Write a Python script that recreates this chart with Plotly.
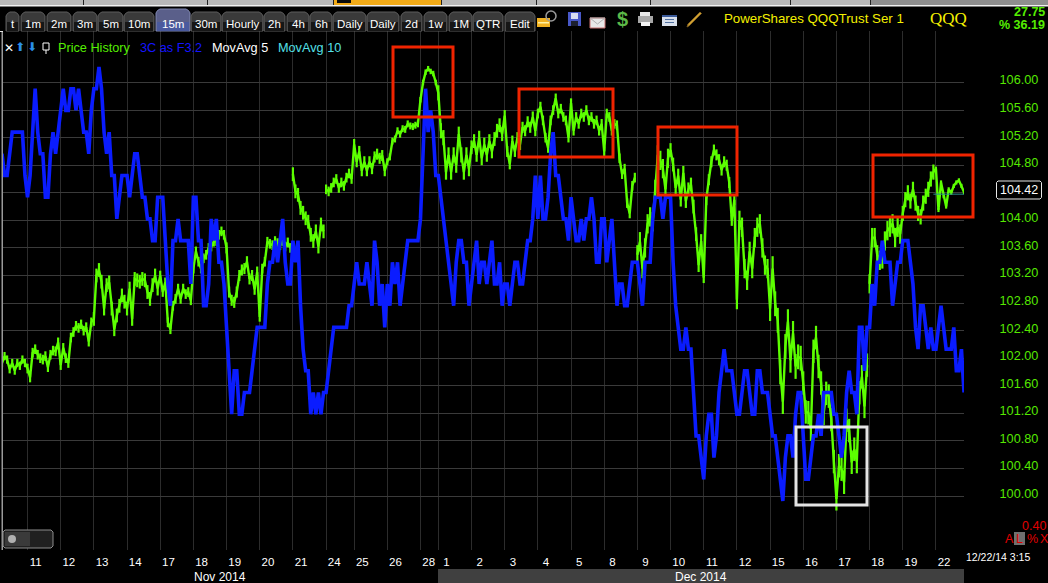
import plotly.graph_objects as go

W, H = 1048, 583
L, R, T, B = 2, 964, 31, 550

# sessions: bar slots (half-hour steps) at which each session opens
session_labels = ["11","12","13","14","17","18","19","20","21","24","25","26","28",
                  "1","2","3","4","5","8","9","10","11","12","15","16","17","18","19","22"]
session_slots = [10,23,36,49,62,75,88,101,114,127,138,151,164,
                 171,184,197,210,223,236,249,262,275,288,301,314,327,340,353,366]
# half of the high-low spread of the price bars in each session (first entry: before the first tick)
session_spread = [.06,.07,.07,.10,.10,.07,.07,.08,.07,.10,.07,.08,.05,.04,
                  .11,.10,.08,.07,.07,.07,.14,.10,.08,.14,.18,.17,.17,.14,.11,.03]
price_ticks = [100+0.4*i for i in range(16)]
green_gap_before = [114,127,249,340]

price_history = [
101.93,102.03,101.98,101.84,101.93,101.82,101.93,101.89,101.98,101.93,
101.85,101.72,102.08,102.13,102.05,102.0,101.98,102.03,101.87,102.05,
102.11,102.1,102.23,101.9,102.15,102.0,101.93,102.3,102.38,102.47,
102.44,102.49,102.4,102.45,102.24,102.52,102.57,103.2,103.28,103.11,
102.72,103.06,103.1,102.72,102.42,102.62,102.76,102.91,102.82,102.72,
103.01,102.57,103.15,103.13,103.11,103.15,103.13,102.96,102.86,103.06,
103.2,103.01,103.2,102.96,103.1,102.52,102.42,102.76,102.86,103.01,
102.86,103.01,102.93,102.96,102.84,103.3,103.55,103.4,103.3,103.45,
103.5,103.6,103.62,103.69,103.7,103.79,103.84,103.79,103.6,102.96,
102.84,102.81,102.96,103.2,103.28,103.3,103.4,103.15,103.2,103.0,
103.25,102.6,103.3,103.4,103.69,103.66,103.64,103.7,103.67,103.64,
103.7,103.62,103.68,103.6,104.67,104.42,104.37,104.18,104.11,104.03,
103.98,103.79,103.7,103.84,103.62,103.94,103.84,104.45,104.42,104.47,
104.55,104.6,104.47,104.55,104.5,104.62,104.68,104.6,105.1,104.85,
105.0,104.72,104.85,104.72,104.85,104.75,104.92,104.96,104.9,104.94,
104.72,104.85,104.92,105.15,105.18,105.3,105.25,105.33,105.32,105.4,
105.37,105.36,105.38,105.4,105.75,106.0,106.15,106.2,106.16,106.13,
106.0,105.85,105.3,105.2,104.7,104.95,104.7,104.95,104.8,105.25,
104.95,104.7,104.95,104.75,105.06,105.15,104.95,105.2,104.9,105.1,
104.95,105.15,105.0,105.18,105.3,105.38,105.25,105.52,105.0,104.82,
105.15,105.0,105.2,105.1,105.35,105.3,105.43,105.35,105.5,105.3,
105.55,105.65,105.45,105.2,105.05,105.45,105.6,105.77,105.55,105.62,
105.5,105.45,105.2,105.7,105.3,105.5,105.4,105.55,105.5,105.6,
105.45,105.5,105.4,105.45,105.3,105.4,105.0,105.55,105.5,105.3,
105.4,105.38,104.9,104.67,104.75,104.25,104.1,104.5,104.62,103.5,
103.69,103.3,103.6,103.95,104.05,103.98,104.45,104.95,104.87,104.75,
104.45,104.9,105.02,104.81,104.47,104.65,104.3,104.69,104.28,104.45,
104.52,104.2,103.8,103.35,103.7,103.17,104.3,104.59,104.85,105.02,
104.95,104.88,104.73,104.85,104.8,104.55,104.0,104.3,102.85,104.0,
103.9,103.3,103.13,103.55,103.3,103.75,103.9,103.95,103.6,103.35,
103.3,102.72,103.3,102.79,102.55,101.8,101.37,102.17,102.53,101.97,
102.36,101.88,102.02,102.0,101.64,101.22,101.21,100.97,102.1,102.3,
101.88,101.64,101.2,101.49,101.45,101.11,100.5,99.96,100.44,100.39,
100.2,101.1,100.95,100.49,100.68,100.5,101.5,101.73,101.3,101.9,
103.08,103.75,103.75,103.5,103.42,103.44,103.7,103.85,103.9,103.95,
103.75,103.9,103.8,104.1,104.3,104.4,104.28,104.45,104.25,104.1,
104.05,104.25,104.35,104.45,104.6,104.7,104.75,104.15,104.55,104.35,
104.2,104.45,104.4,104.5,104.55,104.58,104.5,104.41]

# 3C indicator, in steps below its highest reading
three_c_steps = [
4,5,5,4,3,3,3,3,3,5, 6,5,3,1,3,4,4,6,6,4, 3,4,3,2,1,2,2,1,1,2, 1,2,3,3,4,2,1,1,0,1,
3,4,3,5,5,7,6,5,5,5, 6,5,4,4,5,6,6,7,7,8, 8,6,6,6,8,10,11,8,8,7, 8,8,8,8,10,6,6,8,8,11,
11,10,7,8,7,9,9,10,12,14, 16,14,14,16,16,15,15,15,14,13, 12,12,12,12,10,9,9,8,9,8,
7,9,10,10,8,9,8,11,13,14, 14,16,15,16,15,16,15,15,14,13, 12,12,12,12,12,12,11,11,10,9,
10,10,10,9,10,11,8,9,11,10, 12,10,11,9,10,9,11,10,9,8, 8,8,8,8,7,4,1,3,2,3,
5,5,6,7,8,9,10,11,9,8, 8,9,9,11,10,9,8,10,9,9, 10,9,8,10,10,9,11,10,10,11,
10,9,9,10,10,9,8,8,7,5, 7,5,7,7,6,4,3,5,5,6, 7,7,8,6,7,8,8,7,8,7, 7,6,7,9,9,7,7,9,8,7,
9,11,10,10,11,11,10,9,9,9, 10,11,9,9,9,7,6,6,6,7, 6,6,6,9,11,12,13,13,12,13,
13,15,17,17,18,19,17,16,16,18, 17,15,14,13,14,14,14,15,16,16, 15,14,14,15,16,16,14,14,15,15,
15,16,17,17,18,19,20,18,17,17, 18,16,15,15,17,19,19,18,17,17, 16,17,15,15,15,15,16,16,17,18,
17,15,14,15,15,16,12,12,14,12, 12,10,11,9,9,8,9,9,9,11, 10,9,9,8,8,8,9,10,12,13,
11,11,12,13,12,13,13,12,11,12, 13,13,13,12,14,14,13,15]
assert len(price_history) == 378 and len(three_c_steps) == 378
assert len(session_spread) == len(session_slots) + 1

last_price = 104.42
ma_slots = [365, 377]
ma_values = [104.38, 104.38]

# axis ranges derived from the reference's pixel calibration
def price_at(py): return 106 - (py - 82.5) * 0.4 / 27.57
def step_at(py): return (py - 67) / 21.7
xr = [0, 377]
yr = [price_at(B), price_at(T)]
y2r = [step_at(B), step_at(T)]
label_lift = 2.5 * 0.4 / 27.57   # price labels sit slightly above their gridlines

def px(x): return (x - L) / (R - L)
def py(y): return 1 - (y - T) / (B - T)

GREEN = "#5cff00"; LABEL_GREEN = "#55e800"; BLUE = "#0a1cff"; RED = "#f02400"
UI = "Liberation Sans"

def spread_of(i):
    n = sum(1 for s in session_slots if s <= i)
    return session_spread[n]

gx, gy, ge = [], [], []
for i, v in enumerate(price_history):
    if i in green_gap_before:
        gx.append(None); gy.append(None); ge.append(None)
    gx.append(i); gy.append(v); ge.append(spread_of(i))

fig = go.Figure()
fig.add_trace(go.Scatter(x=list(range(len(three_c_steps))), y=three_c_steps, yaxis="y2", mode="lines",
                         line=dict(color=BLUE, width=3.6), name="3C as F3.2"))
fig.add_trace(go.Scatter(x=gx, y=gy, mode="lines", line=dict(color=GREEN, width=2.4), name="Price History",
                         error_y=dict(type="data", array=ge, symmetric=True, color=GREEN, thickness=2.2, width=0)))
fig.add_trace(go.Scatter(x=ma_slots, y=ma_values, mode="lines", line=dict(color="#2a8f8f", width=1), name="MovAvg 10"))
fig.add_trace(go.Scatter(x=[0], y=[100], xaxis="x2", mode="lines", opacity=0, showlegend=False, hoverinfo="skip"))
fig.add_trace(go.Scatter(x=[0], y=[100], yaxis="y3", mode="lines", opacity=0, showlegend=False, hoverinfo="skip"))

shapes = []
anns = []
def rect(x0, y0, x1, y1, fill=None, line=None, lw=0, layer="above"):
    shapes.append(dict(type="rect", xref="paper", yref="paper", x0=px(x0), x1=px(x1), y0=py(y0), y1=py(y1),
                       fillcolor=fill or "rgba(0,0,0,0)", line=dict(color=line or "rgba(0,0,0,0)", width=lw), layer=layer))
def path(points, fill=None, line=None, lw=1):
    d = "M " + " L ".join(f"{px(a)},{py(b)}" for a, b in points) + " Z"
    shapes.append(dict(type="path", xref="paper", yref="paper", path=d, fillcolor=fill or "rgba(0,0,0,0)",
                       line=dict(color=line or "rgba(0,0,0,0)", width=lw), layer="above"))
def text(x, y, s, color="white", size=11.5, anchor="left", family=UI, bold=False):
    if bold: s = f"<b>{s}</b>"
    anns.append(dict(xref="paper", yref="paper", x=px(x), y=py(y), text=s, showarrow=False, xanchor=anchor,
                     yanchor="middle", font=dict(color=color, size=size, family=family), borderpad=0, borderwidth=0))

# top strip
rect(0, 0, 870, 5, "#b8b8b8"); rect(870, 0, 1048, 5, "#8e8e8e"); rect(333, 0, 441, 5, "#f2ab18")
rect(0, 5, 1048, 6.5, "#f0f0f0")
for s in [83, 207, 333, 441, 536, 650, 790, 870]:
    rect(s, 0, s + 1, 5, "#222222")
rect(337, 0, 351, 3, "#0b0b0b")

# timeframe tabs
tabs = [("t",6,19),("1m",21,45),("2m",47,71),("3m",73,97),("5m",98,123),("10m",124,154),("15m",156,190),
        ("30m",191,221),("Hourly",222,263),("2h",264,285),("4h",287,309),("6h",310,332),("Daily",333,366),
        ("Daily",367,399),("2d",401,422),("1w",424,447),("1M",449,472),("QTR",473,503),("Edit",505,535)]
for name, a, b in tabs:
    active = name == "15m"
    top = 9 if active else 12
    pts = [(a,31),(a,top+4),(a+1.5,top+1.5),(a+4,top),(b-4,top),(b-1.5,top+1.5),(b,top+4),(b,31)]
    path(pts, "#5a5f8a" if active else "#3a3a3a", "#5c5c5c" if not active else "#8088b0", 1)
    rect(a+1, 22, b-1, 31, "#4a5a9e" if active else "#161616")
    text((a+b)/2, 24, name, "white", 11.5, "center")

# chart frame
rect(1.5, 31, 3, 550, "#9a9a9a")
rect(0, 31, 3, 32, "#e8e8e8")

# legend row
text(4, 48, "✕", "white", 12, "left", "DejaVu Sans", True)
text(15, 47, "⬆", "#2a8fe8", 12, "left", "DejaVu Sans")
text(27, 47, "⬇", "#2a8fe8", 12, "left", "DejaVu Sans")
rect(43, 43, 49, 50, None, "white", 1); rect(45.5, 50, 46.5, 54, "white")
text(58, 48.5, "Price History", "#55ee00", 12.7)
text(140, 48.5, "3C as F3.2", "#1414ff", 12.7)
text(212, 48.5, "MovAvg 5", "white", 12.7)
text(278, 48.5, "MovAvg 10", "#55e0e8", 12.7)

# toolbar icons
rect(537, 18, 550, 27, "#f0b020"); rect(538, 22, 549, 23.5, "#fff0a0")
shapes.append(dict(type="circle", xref="paper", yref="paper", x0=px(546), x1=px(556), y0=py(11), y1=py(21),
                   line=dict(color="#9a9a9a", width=1.5), fillcolor="rgba(0,0,0,0)", layer="above"))
rect(568, 12, 581, 26, "#4858c8"); rect(571, 13, 578, 19, "#d8ddf0"); rect(571, 21, 578, 26, "#1c2030")
path([(590,18),(605,18),(605,28),(590,28)], "#e8e8e8", "#c87070", 1)
path([(590,18),(597.5,24),(605,18)], None, "#b0b0b0", 1)
text(622, 19, "$", "#5cb848", 20, "center", "Liberation Sans", True)
rect(640, 12, 650, 16, "#e8e8e8"); rect(638, 16, 653, 23, "#a8a8a8"); rect(641, 22, 650, 26, "#f4f4f4")
rect(662, 15, 677, 26, "#d8e0ec"); rect(662, 15, 677, 17, "#3a5a9a"); rect(665, 19, 674, 20, "#5070a0"); rect(665, 22, 674, 23, "#5070a0")
path([(688,24),(700,12),(701.5,13.5),(689.5,25.5),(687,27)], "#d0a030", "#806020", 1)

# title block
text(724, 18.5, "PowerShares QQQTrust Ser 1", "#f4f000", 13.3)
text(948, 18.5, "QQQ", "#f4f000", 17, "center", "Liberation Serif")
text(1045, 12, "27.75", "#55ee00", 12.5, "right", UI, True)
text(1045, 25, "% 36.19", "#55ee00", 12.5, "right", UI, True)

# annotation boxes
for a, b, c, d in [(393,47,453,117),(519,89,613,157),(658,127,737,195),(873,155,973,217)]:
    rect(a, b, c, d, None, RED, 3)
rect(796, 427, 867, 505, None, "#e4e4e4", 3)

# last-price tag
shapes.append(dict(type="path", xref="paper", yref="paper", layer="above", fillcolor="#000000",
                   line=dict(color="#e8e8e8", width=1),
                   path="M " + " L ".join(f"{px(a)},{py(b)}" for a, b in
                        [(998,181),(1040,181),(1041.5,182.5),(1041.5,197.5),(1040,199),(998,199),(996.5,197.5),(996.5,182.5)]) + " Z"))
text(1019, 190, f"{last_price:.2f}", "white", 12.5, "center")

# lower right
text(1046, 526, "0.40", "#e00000", 12.5, "right")
rect(1014, 532, 1025, 545, "#707070")
text(1005, 538.5, "A", "#e00000", 12.5, "left")
text(1016, 538.5, "L", "#e00000", 12.5, "left")
text(1027, 538.5, "%", "#e00000", 12.5, "left")
text(1040, 538.5, "X", "#e00000", 12.5, "left")
text(966, 557, "12/22/14 3:15", "white", 10.5)

# scroll button
path([(5,530),(51,530),(53,532),(53,546),(51,548),(5,548),(3,546),(3,532)], "#202020", "#8c8c8c", 1)
rect(5, 532, 30, 546, "#3a3a3a")
shapes.append(dict(type="circle", xref="paper", yref="paper", x0=px(8), x1=px(16), y0=py(535), y1=py(543),
                   fillcolor="#b0b0b0", line=dict(width=0), layer="above"))

# month band
rect(438, 569, 964, 583, "#404040")
text(220, 577, "Nov 2014", "white", 12, "center")
text(701, 577, "Dec 2014", "white", 12, "center")

fig.update_layout(
    width=W, height=H, paper_bgcolor="#000000", plot_bgcolor="#000000", showlegend=False, hovermode=False,
    margin=dict(l=L, r=W - R, t=T, b=H - B, autoexpand=False),
    xaxis=dict(range=xr, tickmode="array", tickvals=session_slots, ticktext=[""] * len(session_slots),
               showgrid=True, gridcolor="#2c2c2c", gridwidth=1, zeroline=False, showline=False, ticks=""),
    xaxis2=dict(range=xr, overlaying="x", anchor="y", side="bottom", tickmode="array",
                tickvals=[s + 3.2 for s in session_slots], ticktext=session_labels,
                showgrid=False, zeroline=False, showline=False, ticks="outside", ticklen=1,
                tickcolor="rgba(0,0,0,0)", tickfont=dict(color="white", size=11.5, family=UI)),
    yaxis=dict(range=yr, side="right", tickmode="array", tickvals=price_ticks,
               ticktext=[""] * len(price_ticks), showgrid=True, gridcolor="#3a3a3a", gridwidth=1,
               zeroline=False, showline=False, ticks=""),
    yaxis2=dict(range=y2r, overlaying="y", side="left", visible=False, showgrid=False, zeroline=False),
    yaxis3=dict(range=[yr[0] - label_lift, yr[1] - label_lift], overlaying="y", side="right", anchor="x",
                tickmode="array", tickvals=price_ticks, ticktext=[f"{v:.2f}" for v in price_ticks],
                showgrid=False, zeroline=False, showline=False, ticks="outside", ticklen=32,
                tickcolor="rgba(0,0,0,0)", tickfont=dict(color=LABEL_GREEN, size=12.7, family=UI)),
    shapes=shapes, annotations=anns,
)
fig.write_html("out.html", config=dict(displayModeBar=False),
               post_script="document.body.style.margin='0';document.documentElement.style.background='#000';document.body.style.overflow='hidden';")
